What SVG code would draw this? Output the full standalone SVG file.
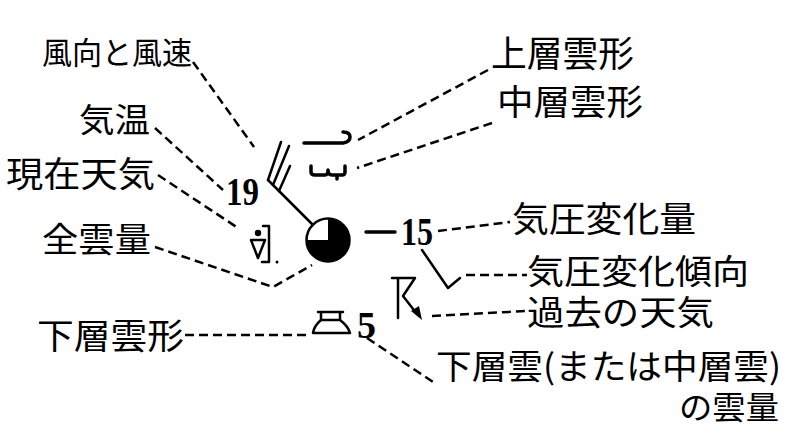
<svg xmlns="http://www.w3.org/2000/svg" width="790" height="436" viewBox="0 0 790 436">
<style>
.lbl{font-family:"Noto Sans CJK JP","Noto Sans",sans-serif;fill:#000}
.num{font-family:"Liberation Serif",serif;fill:#000;font-weight:bold}
.dash{fill:none;stroke:#000;stroke-width:2.5;stroke-dasharray:9 5}
.sol{fill:none;stroke:#000;stroke-width:2.5;stroke-linecap:round;stroke-linejoin:round}
.thick{fill:none;stroke:#000;stroke-width:3.5;stroke-linecap:round;stroke-linejoin:round}
</style>
<rect width="790" height="436" fill="#fff"/>

<g id="connectors">
<path class="dash" d="M193,62 L254,147"/>
<path class="dash" d="M155,128 L223,190"/>
<path class="dash" d="M158,175 L238,228"/>
<path class="dash" d="M155,247 L273,287 L312,265"/>
<path class="dash" d="M488,70 L358,140"/>
<path class="dash" d="M492,123 L357,168"/>
<path class="dash" d="M438,231 L510,222"/>
<path class="sol" d="M422,250 L448,288 L460,278"/>
<path class="dash" d="M466,275 L527,275"/>
<path class="dash" d="M432,316 L527,311"/>
<path class="dash" d="M185,335 L307,335"/>
<path class="dash" d="M367,338 L433,382"/>
</g>

<g id="station">
<circle cx="328" cy="240" r="21.5" fill="#fff" stroke="#000" stroke-width="2.5"/>
<path d="M328,240 L328,218.5 A21.5,21.5 0 1 1 306.5,240 Z" fill="#000"/>
</g>

<g id="wind">
<path class="sol" d="M313,225 L268,180"/>
<path class="sol" d="M268,180 L281,142"/>
<path class="sol" d="M273,185 L289,146"/>
<path class="sol" d="M279,191 L290,166"/>
</g>

<g id="cloud-high">
<path class="thick" d="M304,143 L343,143 Q350,142 350,137 Q350,132 343,132"/>
</g>
<g id="cloud-mid">
<path class="thick" d="M311,166 L311,172 Q311,175 315,175 L325,175 Q328,175 328,170 Q328,175 332,175 L342,175 Q345,175 345,172 L345,166 M337,175 L337,179"/>
</g>

<g id="present-weather">
<circle cx="258" cy="233" r="3.2" fill="#000"/>
<path class="sol" d="M251,240 L265,240 L258,258 Z"/>
<path class="sol" d="M263,226 L269,226 L269,262 L262,262"/>
<circle cx="277" cy="262" r="1.5" fill="#000"/>
</g>

<g id="past-weather">
<path class="sol" d="M398,278 L398,318 M392,278 L415,278 L403,296 L417,314"/>
<path d="M411,311 L422,320 L419,306 Z" fill="#000"/>
</g>

<g id="cloud-low">
<path class="sol" d="M318,312 L343,312 M321,312 L321,320 M340,312 L340,320 M321,320 L340,320 M321,320 Q314,326 313,333 L350,333 Q348,326 340,320"/>
</g>

<g id="pressure-change">
<path class="thick" d="M366,232 L395,232"/>
<text class="num" x="401" y="245" font-size="41" textLength="32" lengthAdjust="spacingAndGlyphs">15</text>
</g>

<g id="temperature">
<text class="num" x="226" y="205" font-size="41" textLength="33" lengthAdjust="spacingAndGlyphs">19</text>
</g>
<g id="low-cloud-amount">
<text class="num" x="357" y="338" font-size="38" textLength="19" lengthAdjust="spacingAndGlyphs">5</text>
</g>

<g id="labels">
<text class="lbl" x="42" y="64" font-size="31" textLength="150" lengthAdjust="spacingAndGlyphs">風向と風速</text>
<text class="lbl" x="79" y="132" font-size="33" textLength="71" lengthAdjust="spacingAndGlyphs">気温</text>
<text class="lbl" x="6" y="187" font-size="35" textLength="149" lengthAdjust="spacingAndGlyphs">現在天気</text>
<text class="lbl" x="42" y="252" font-size="34" textLength="109" lengthAdjust="spacingAndGlyphs">全雲量</text>
<text class="lbl" x="37" y="349" font-size="35" textLength="147" lengthAdjust="spacingAndGlyphs">下層雲形</text>
<text class="lbl" x="491" y="67" font-size="36" textLength="143" lengthAdjust="spacingAndGlyphs">上層雲形</text>
<text class="lbl" x="497" y="115" font-size="35" textLength="146" lengthAdjust="spacingAndGlyphs">中層雲形</text>
<text class="lbl" x="512" y="232" font-size="35" textLength="184" lengthAdjust="spacingAndGlyphs">気圧変化量</text>
<text class="lbl" x="527" y="284" font-size="34" textLength="222" lengthAdjust="spacingAndGlyphs">気圧変化傾向</text>
<text class="lbl" x="527" y="325" font-size="34" textLength="187" lengthAdjust="spacingAndGlyphs">過去の天気</text>
<text class="lbl" x="436" y="379" font-size="34" textLength="345" lengthAdjust="spacingAndGlyphs">下層雲(または中層雲)</text>
<text class="lbl" x="679" y="419" font-size="32" textLength="100" lengthAdjust="spacingAndGlyphs">の雲量</text>
</g>
</svg>
